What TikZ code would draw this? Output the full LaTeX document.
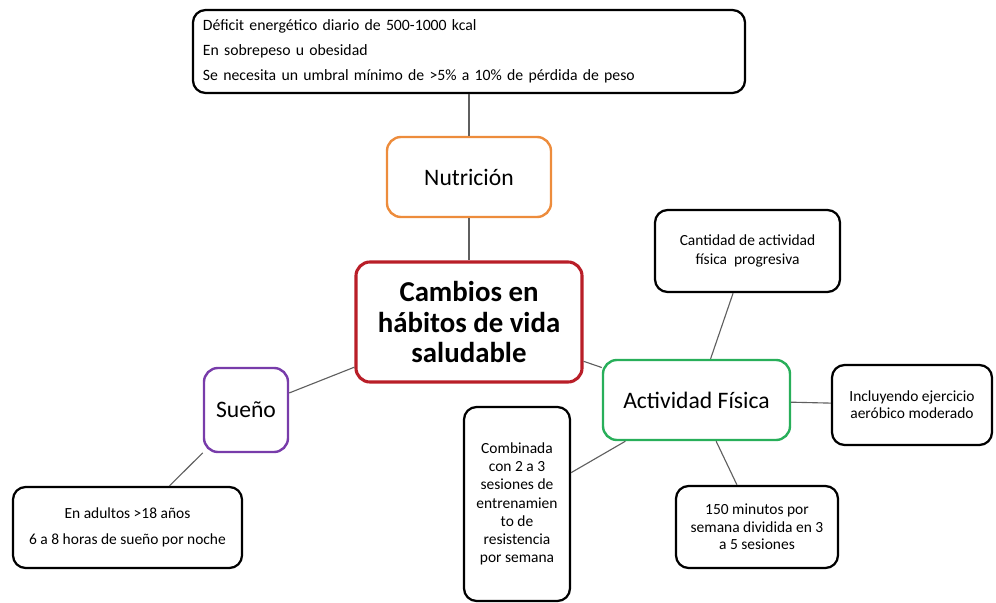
\documentclass[tikz,border=0pt]{standalone}
\usepackage{fontspec}
\setmainfont{Carlito}
\definecolor{nutriorange}{RGB}{237,140,60}
\definecolor{cambiosred}{RGB}{185,30,40}
\definecolor{suenopurple}{RGB}{120,60,170}
\definecolor{actgreen}{RGB}{40,175,90}
\definecolor{linkgray}{RGB}{95,95,95}

\begin{document}
\begin{tikzpicture}[x=0.025cm,y=-0.025cm,
  box/.style={draw=black,line width=1.6pt,rounded corners=9pt,fill=white,align=center,inner sep=2pt,font=\fontsize{11}{13}\selectfont},
  topic/.style={line width=1.7pt,rounded corners=10pt,fill=white,align=center,font=\fontsize{16.8}{20}\selectfont},
  link/.style={draw=linkgray,line width=0.8pt}]
\useasboundingbox (0,0) rectangle (996,603);

\node[box,minimum width=13.8cm,minimum height=2.075cm,text width=13.3cm,align=left,font=\fontsize{11.2}{17.7}\selectfont] (deficit) at (469,51.5)
  {Déficit energético diario de 500-1000 kcal\\En sobrepeso u obesidad\\Se necesita un umbral mínimo de >5\% a 10\% de pérdida de peso};
\node[topic,draw=nutriorange,minimum width=4.1cm,minimum height=2cm] (nutricion) at (469,177) {Nutrición};
\node[topic,draw=cambiosred,line width=2.2pt,minimum width=5.65cm,minimum height=3cm,font=\fontsize{20.5}{21.6}\selectfont\bfseries] (cambios) at (469,322)
  {Cambios en\\hábitos de vida\\saludable};
\node[topic,draw=suenopurple,minimum width=2.1cm,minimum height=2.1cm] (sueno) at (246,410) {Sueño};
\node[box,minimum width=5.725cm,minimum height=2.025cm,font=\fontsize{11}{19}\selectfont] (horas) at (127.5,527.5)
  {En adultos >18 años\\6 a 8 horas de sueño por noche};
\node[topic,draw=actgreen,minimum width=4.675cm,minimum height=2cm] (actividad) at (696.5,400) {Actividad Física};
\node[box,minimum width=4.625cm,minimum height=2.05cm] (cantidad) at (747.5,251)
  {Cantidad de actividad\\física \ progresiva};
\node[box,minimum width=4cm,minimum height=2cm,font=\fontsize{11}{12}\selectfont] (aerobico) at (912,405)
  {Incluyendo ejercicio\\aeróbico moderado};
\node[box,minimum width=4.05cm,minimum height=2.05cm,font=\fontsize{11}{12.5}\selectfont] (minutos) at (757,527)
  {150 minutos por\\semana dividida en 3\\a 5 sesiones};
\node[box,minimum width=2.65cm,minimum height=4.85cm] (combinada) at (517,504)
  {Combinada\\con 2 a 3\\sesiones de\\entrenamien\\to de\\resistencia\\por semana};

\draw[link] (deficit) -- (nutricion);
\draw[link] (nutricion) -- (cambios);
\draw[link] (cambios) -- (sueno);
\draw[link] (sueno) -- (horas);
\draw[link] (cambios) -- (actividad);
\draw[link] (actividad) -- (cantidad);
\draw[link] (actividad) -- (aerobico);
\draw[link] (actividad) -- (minutos);
\draw[link] (actividad) -- (combinada);

\end{tikzpicture}
\end{document}
